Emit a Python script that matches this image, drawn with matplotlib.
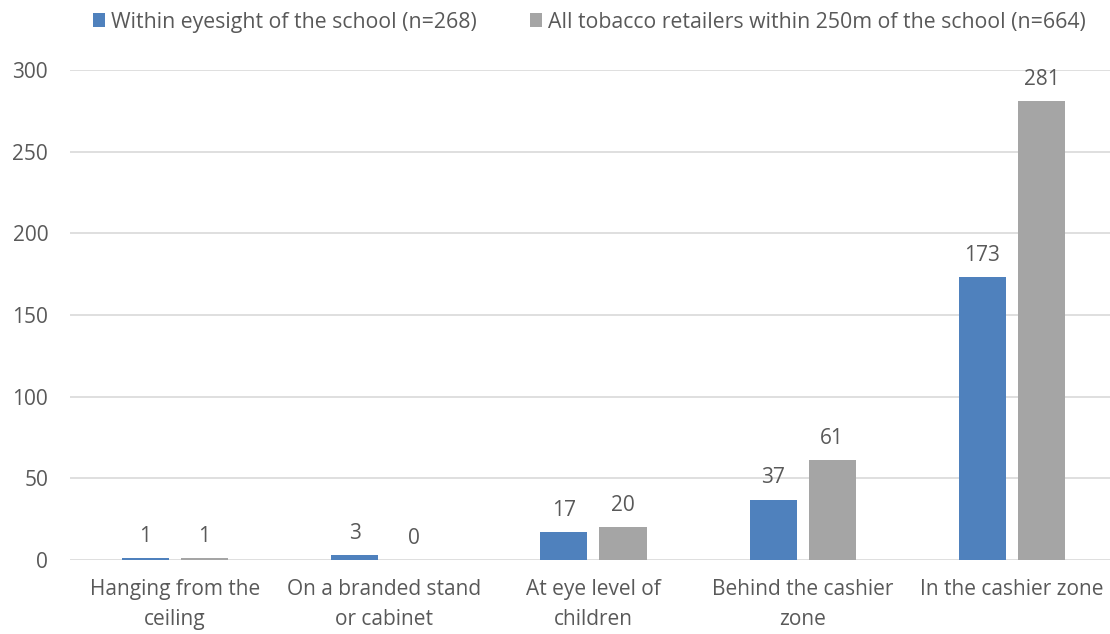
import numpy as np
import matplotlib.pyplot as plt

categories = ["Hanging from the\nceiling", "On a branded stand\nor cabinet", "At eye level of\nchildren",
              "Behind the cashier\nzone", "In the cashier zone"]
within_eyesight = [1, 3, 17, 37, 173]
within_250m = [1, 0, 20, 61, 281]
series_labels = ["Within eyesight of the school (n=268)",
                 "All tobacco retailers within 250m of the school (n=664)"]

plt.rcParams['font.family'] = ['Open Sans', 'DejaVu Sans']
text_col = '#595959'
fs = 15

fig = plt.figure(figsize=(11.1, 6.34), dpi=100)
ax = fig.add_axes([0.0634, 0.1167, 0.9425, 0.7729])

x = np.arange(len(categories))
w = 0.225
off = 0.141
b1 = ax.bar(x - off, within_eyesight, w, color='#4f81bd', label=series_labels[0], zorder=3)
b2 = ax.bar(x + off, within_250m, w, color='#a5a5a5', label=series_labels[1], zorder=3)

for bars, vals in ((b1, within_eyesight), (b2, within_250m)):
    for r, v in zip(bars, vals):
        ax.annotate(str(v), (r.get_x() + r.get_width() / 2, v), xytext=(0, 8),
                    textcoords='offset points', ha='center', va='bottom',
                    fontsize=fs, color=text_col)

ax.set_xlim(-0.5, len(categories) - 0.5)
ax.set_ylim(0, 300)
ax.set_yticks(range(0, 301, 50))
ax.set_xticks(x)
ax.set_xticklabels(categories, fontsize=fs, color=text_col, linespacing=1.55)
ax.tick_params(axis='y', labelsize=fs, colors=text_col, length=0, pad=16)
ax.tick_params(axis='x', length=0, pad=14)
ax.grid(axis='y', color='#d9d9d9', linewidth=1.2, zorder=0)
for s in ax.spines.values():
    s.set_visible(False)

fig.legend(loc='upper center', bbox_to_anchor=(0.531, 1.012), ncol=2, frameon=False,
           fontsize=15.3, labelcolor=text_col, handlelength=0.55, handleheight=0.6,
           handletextpad=0.3, columnspacing=2.5)

fig.savefig('out.png', dpi=100)
